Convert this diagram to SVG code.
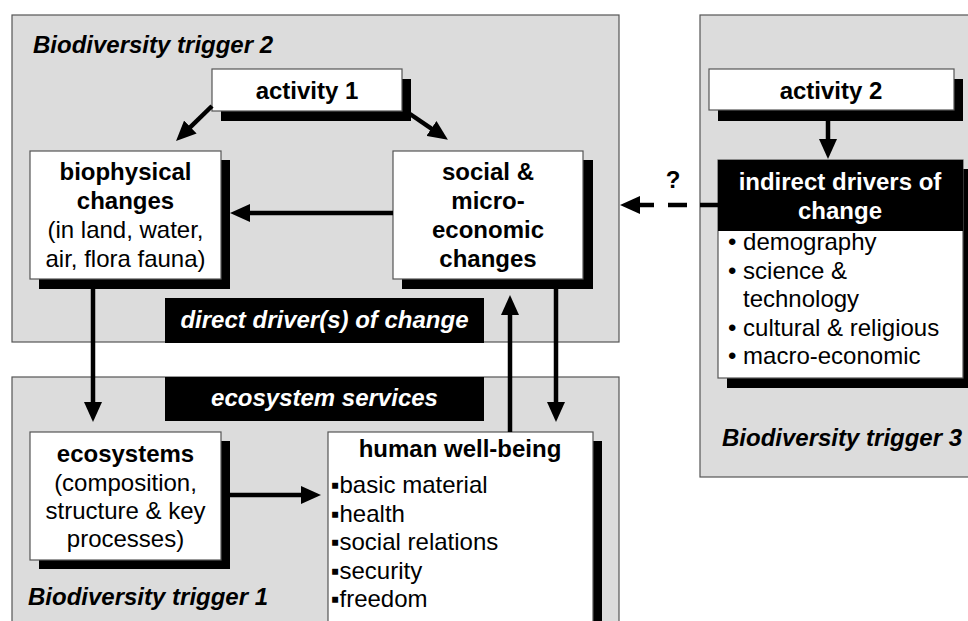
<svg xmlns="http://www.w3.org/2000/svg" width="968" height="621" viewBox="0 0 968 621">
<defs>
<style>
.zone{fill:#dcdcdc;stroke:#555;stroke-width:1.2}
.box{fill:#fff;stroke:#555;stroke-width:1.2}
.shadow{fill:#000}
.band{fill:#000}
.t{font-family:"Liberation Sans",Arial,sans-serif;font-size:24px;fill:#000}
.b{font-weight:bold}
.i{font-style:italic}
.w{fill:#fff}
.m{text-anchor:middle}
.c{stroke:#000;stroke-width:4.5;fill:none}
</style>
<marker id="ah" markerUnits="userSpaceOnUse" markerWidth="20" markerHeight="18" viewBox="0 0 20 18" refX="4" refY="9" orient="auto">
<path d="M0,0 L20,9 L0,18 z" fill="#000"/>
</marker>
</defs>
<rect width="968" height="621" fill="#fff"/>

<g id="trigger2">
<rect class="zone" x="12" y="15" width="607" height="327"/>
<text class="t b i" x="33" y="53">Biodiversity trigger 2</text>
</g>
<g id="trigger1">
<rect class="zone" x="12" y="377" width="607" height="270"/>
<text class="t b i" x="28" y="605">Biodiversity trigger 1</text>
</g>
<g id="trigger3">
<rect class="zone" x="700" y="15" width="290" height="462"/>
<text class="t b i" x="722" y="446">Biodiversity trigger 3</text>
</g>

<g id="activity1">
<rect class="shadow" x="221" y="79" width="190" height="42"/>
<rect class="box" x="212" y="69" width="190" height="42"/>
<text class="t b m" x="307" y="99">activity 1</text>
</g>
<g id="biophysical">
<rect class="shadow" x="39" y="160" width="191" height="129"/>
<rect class="box" x="30" y="151" width="191" height="128"/>
<text class="t m" x="125.5" y="180"><tspan class="b">biophysical</tspan><tspan class="b" x="125.5" dy="29">changes</tspan><tspan x="125.5" dy="29">(in land, water,</tspan><tspan x="125.5" dy="29">air, flora fauna)</tspan></text>
</g>
<g id="social">
<rect class="shadow" x="402" y="160" width="191" height="129"/>
<rect class="box" x="393" y="151" width="190" height="128"/>
<text class="t b m" x="488" y="180">social &amp;<tspan x="488" dy="29">micro-</tspan><tspan x="488" dy="29">economic</tspan><tspan x="488" dy="29">changes</tspan></text>
</g>
<g id="direct-drivers">
<rect class="band" x="165" y="298" width="319" height="45"/>
<text class="t b i w m" x="324.5" y="328">direct driver(s) of change</text>
</g>
<g id="ecosystem-services">
<rect class="band" x="165" y="377" width="319" height="44"/>
<text class="t b i w m" x="324.5" y="406">ecosystem services</text>
</g>
<g id="ecosystems">
<rect class="shadow" x="39" y="441" width="191" height="128"/>
<rect class="box" x="30" y="432" width="191" height="128"/>
<text class="t m" x="125.5" y="462"><tspan class="b">ecosystems</tspan><tspan x="125.5" dy="29">(composition,</tspan><tspan x="125.5" dy="28">structure &amp; key</tspan><tspan x="125.5" dy="28">processes)</tspan></text>
</g>
<g id="human-well-being">
<rect class="shadow" x="337" y="441" width="265" height="200"/>
<rect class="box" x="328" y="432" width="265" height="200"/>
<text class="t b m" x="460" y="457">human well-being</text>
<text class="t" x="331" y="493">▪basic material<tspan x="331" dy="28.5">▪health</tspan><tspan x="331" dy="28.5">▪social relations</tspan><tspan x="331" dy="28.5">▪security</tspan><tspan x="331" dy="28.5">▪freedom</tspan></text>
</g>
<g id="activity2">
<rect class="shadow" x="718" y="79" width="245" height="42"/>
<rect class="box" x="709" y="69" width="245" height="41"/>
<text class="t b m" x="831" y="99">activity 2</text>
</g>
<g id="indirect-drivers">
<rect class="shadow" x="727" y="169" width="250" height="219"/>
<rect class="box" x="718" y="160" width="245" height="218"/>
<rect class="band" x="718" y="160" width="245" height="71"/>
<text class="t b w m" x="840" y="190">indirect drivers of<tspan x="840" dy="29">change</tspan></text>
<text class="t" x="728" y="250">• demography<tspan x="728" dy="28.5">• science &amp;</tspan><tspan x="743" dy="28.5">technology</tspan><tspan x="728" dy="28.5">• cultural &amp; religious</tspan><tspan x="728" dy="28.5">• macro-economic</tspan></text>
</g>

<g id="connectors">
<line class="c" x1="212" y1="106" x2="187.5" y2="129.8" marker-end="url(#ah)"/>
<line class="c" x1="410" y1="114" x2="434.7" y2="130.8" marker-end="url(#ah)"/>
<line class="c" x1="393" y1="213" x2="246" y2="213" marker-end="url(#ah)"/>
<line class="c" x1="93" y1="289" x2="93" y2="406" marker-end="url(#ah)"/>
<line class="c" x1="510" y1="432" x2="510" y2="311" marker-end="url(#ah)"/>
<line class="c" x1="556" y1="289" x2="556" y2="406" marker-end="url(#ah)"/>
<line class="c" x1="230" y1="495" x2="305" y2="495" marker-end="url(#ah)"/>
<line class="c" x1="828" y1="121" x2="828" y2="143" marker-end="url(#ah)"/>
<line class="c" x1="700" y1="205" x2="718" y2="205"/>
<line class="c" x1="668" y1="205" x2="687" y2="205"/>
<line class="c" x1="654" y1="205" x2="636" y2="205" marker-end="url(#ah)"/>
<text class="t b m" x="673" y="188">?</text>
</g>
</svg>
